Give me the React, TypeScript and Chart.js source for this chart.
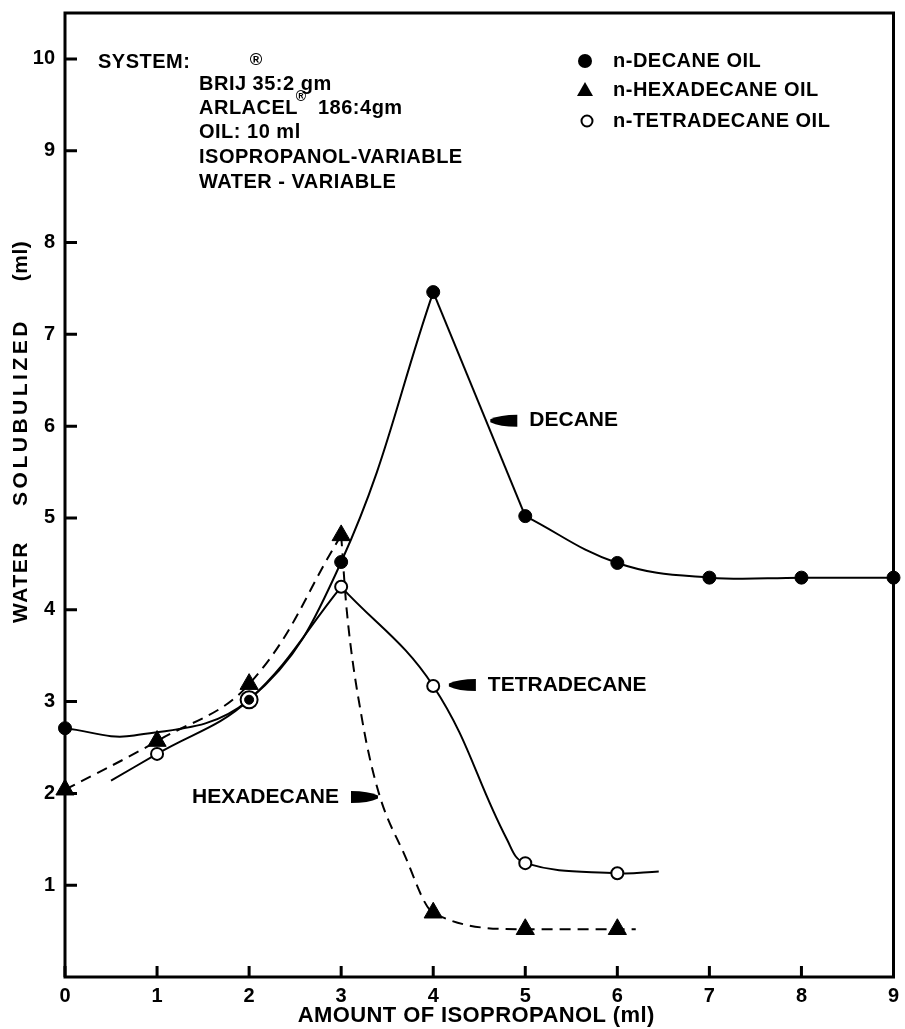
import React, { useEffect, useRef } from "react";
import { Chart, registerables } from "chart.js";

Chart.register(...registerables);

const FONT = '"Liberation Sans", Arial, sans-serif';

// Axis ticks
const xTickValues = [0, 1, 2, 3, 4, 5, 6, 7, 8, 9];
const yTickValues = [1, 2, 3, 4, 5, 6, 7, 8, 9, 10];

// Measured points (amount of isopropanol, ml -> water solubilized, ml)
const decaneX = [0, 2, 3, 4, 5, 6, 7, 8, 9];
const decaneY = [2.71, 3.02, 4.52, 7.46, 5.02, 4.51, 4.35, 4.35, 4.35];
const hexadecaneX = [0, 1, 2, 3, 4, 5, 6];
const hexadecaneY = [2.04, 2.57, 3.19, 4.81, 0.7, 0.52, 0.52];
const tetradecaneX = [1, 2, 3, 4, 5, 6];
const tetradecaneY = [2.43, 3.02, 4.25, 3.17, 1.24, 1.13];

// Hand-drawn fitted curves: extra points read along each curve, and the x values where each curve turns sharply
const decaneCurveExtraX = [0.75];
const decaneCurveExtraY = [2.63];
const decaneCusps = [4, 5];
const hexadecaneCurveExtraX = [3.06, 3.23, 3.41, 3.68, 6.2];
const hexadecaneCurveExtraY = [4.0, 2.79, 2.0, 1.35, 0.52];
const hexadecaneCusps = [3];
const tetradecaneCurveExtraX = [0.5, 4.8, 6.45];
const tetradecaneCurveExtraY = [2.14, 1.5, 1.15];
const tetradecaneCusps = [3];

// Legend
const legendLabels = ["n-DECANE OIL", "n-HEXADECANE OIL", "n-TETRADECANE OIL"];

// Curve labels with pointer tips (data coords)
const curveLabels = ["DECANE", "TETRADECANE", "HEXADECANE"];
const curveLabelTipX = [4.62, 4.17, 3.4];
const curveLabelTipY = [6.06, 3.18, 1.96];
const curveLabelSide = ["right", "right", "left"];

// System description
const systemTitle = "SYSTEM:";
const systemLines = ["BRIJ 35:2 gm", "ARLACEL", "OIL: 10 ml", "ISOPROPANOL-VARIABLE", "WATER - VARIABLE"];
const arlacelRest = "186:4gm";

const xTitle = "AMOUNT OF ISOPROPANOL (ml)";
const yTitleWords = ["WATER", "SOLUBULIZED", "(ml)"];

type P = { x: number; y: number };
const toPoints = (xs: number[], ys: number[]): P[] => xs.map((x, i) => ({ x, y: ys[i] }));

function splitCurve(xs: number[], ys: number[], ex: number[], ey: number[], cusps: number[]): P[][] {
  const pts = [...toPoints(xs, ys), ...toPoints(ex, ey)].sort((a, b) => a.x - b.x);
  const bounds = [-Infinity, ...cusps, Infinity];
  const pieces: P[][] = [];
  for (let i = 0; i < bounds.length - 1; i++) {
    pieces.push(pts.filter((p) => p.x >= bounds[i] && p.x <= bounds[i + 1]));
  }
  return pieces;
}

const decanePts = toPoints(decaneX, decaneY);
const tetraPts = toPoints(tetradecaneX, tetradecaneY);
const coincide = (p: P, list: P[]) => list.some((q) => q.x === p.x && Math.abs(q.y - p.y) < 0.1);

function drawPointer(ctx: CanvasRenderingContext2D, tx: number, ty: number, dir: number) {
  const len = 27;
  const h = 12;
  const bx = tx + dir * len;
  ctx.beginPath();
  ctx.moveTo(tx, ty - 1.5);
  ctx.quadraticCurveTo(tx + dir * len * 0.35, ty - h / 2, bx, ty - h / 2);
  ctx.lineTo(bx, ty + h / 2);
  ctx.quadraticCurveTo(tx + dir * len * 0.35, ty + h / 2, tx, ty + 1.5);
  ctx.closePath();
  ctx.fill();
}

const overlay = {
  id: "overlay",
  beforeDatasetsDraw(chart: any) {
    const { ctx, chartArea: a, scales } = chart;
    const x = scales.x;
    const y = scales.y;
    ctx.save();
    ctx.strokeStyle = "#000";
    ctx.lineWidth = 3;
    ctx.strokeRect(a.left, a.top, a.right - a.left, a.bottom - a.top);
    ctx.beginPath();
    yTickValues.forEach((v) => {
      const py = y.getPixelForValue(v);
      ctx.moveTo(a.left, py);
      ctx.lineTo(a.left + 12, py);
    });
    xTickValues.forEach((v) => {
      const px = x.getPixelForValue(v);
      ctx.moveTo(px, a.bottom);
      ctx.lineTo(px, a.bottom - 11);
    });
    ctx.stroke();
    ctx.restore();
  },
  afterDraw(chart: any) {
    const { ctx, chartArea: a, scales } = chart;
    const x = scales.x;
    const y = scales.y;
    ctx.save();
    ctx.fillStyle = "#000";
    ctx.strokeStyle = "#000";
    ctx.textBaseline = "middle";
    ctx.textAlign = "left";

    // system block
    ctx.font = `bold 20px ${FONT}`;
    (ctx as any).letterSpacing = "0.5px";
    ctx.fillText(systemTitle, 98, 62);
    const lineYs = [84, 108, 132, 157, 182];
    systemLines.forEach((t, i) => ctx.fillText(t, 199, lineYs[i]));
    ctx.fillText(arlacelRest, 318, 108);
    (ctx as any).letterSpacing = "0px";
    ctx.textAlign = "center";
    ctx.font = `bold 17px ${FONT}`;
    ctx.fillText("®", 256, 60);
    ctx.font = `bold 14px ${FONT}`;
    ctx.fillText("®", 301, 97);

    // legend
    ctx.textAlign = "left";
    ctx.font = `bold 20px ${FONT}`;
    (ctx as any).letterSpacing = "0.5px";
    const legYs = [61, 90, 121];
    legendLabels.forEach((t, i) => ctx.fillText(t, 613, legYs[i]));
    (ctx as any).letterSpacing = "0px";
    ctx.beginPath();
    ctx.arc(585, legYs[0], 7, 0, Math.PI * 2);
    ctx.fill();
    ctx.beginPath();
    ctx.moveTo(585, legYs[1] - 8);
    ctx.lineTo(593, legYs[1] + 6);
    ctx.lineTo(577, legYs[1] + 6);
    ctx.closePath();
    ctx.fill();
    ctx.lineWidth = 2;
    ctx.beginPath();
    ctx.arc(587, legYs[2], 5.5, 0, Math.PI * 2);
    ctx.fillStyle = "#fff";
    ctx.fill();
    ctx.stroke();
    ctx.fillStyle = "#000";

    // curve labels
    ctx.font = `bold 21px ${FONT}`;
    curveLabels.forEach((t, i) => {
      const tx = x.getPixelForValue(curveLabelTipX[i]);
      const ty = y.getPixelForValue(curveLabelTipY[i]);
      const dir = curveLabelSide[i] === "right" ? 1 : -1;
      drawPointer(ctx, tx, ty, dir);
      ctx.textAlign = dir > 0 ? "left" : "right";
      ctx.fillText(t, tx + dir * 39, ty);
    });

    // axis titles
    ctx.textAlign = "center";
    ctx.font = `bold 22px ${FONT}`;
    (ctx as any).letterSpacing = "0.4px";
    ctx.fillText(xTitle, (a.left + a.right) / 2 - 3, 1016);
    ctx.font = `bold 21px ${FONT}`;
    const wordCenters = [582, 412, 261];
    const wordSpacing = ["1.5px", "3.5px", "0.5px"];
    yTitleWords.forEach((w, i) => {
      ctx.save();
      (ctx as any).letterSpacing = wordSpacing[i];
      ctx.translate(21, wordCenters[i]);
      ctx.rotate(-Math.PI / 2);
      ctx.fillText(w, 0, 0);
      ctx.restore();
    });
    (ctx as any).letterSpacing = "0px";
    ctx.restore();
  },
};

const zeroPadding = (s: any) => {
  s.paddingTop = 0;
  s.paddingBottom = 0;
  s.paddingLeft = 0;
  s.paddingRight = 0;
};

export default function App() {
  const ref = useRef<HTMLCanvasElement>(null);

  useEffect(() => {
    document.body.style.margin = "0";
    document.body.style.overflow = "hidden";
    const canvas = ref.current!;
    const decPieces = splitCurve(decaneX, decaneY, decaneCurveExtraX, decaneCurveExtraY, decaneCusps);
    const hexPieces = splitCurve(hexadecaneX, hexadecaneY, hexadecaneCurveExtraX, hexadecaneCurveExtraY, hexadecaneCusps);
    const tetPieces = splitCurve(tetradecaneX, tetradecaneY, tetradecaneCurveExtraX, tetradecaneCurveExtraY, tetradecaneCusps);

    const curve = (data: P[], dashed: boolean, mono = false): any => ({
      data,
      borderColor: "#000",
      borderWidth: 2,
      borderDash: dashed ? [11, 7] : [],
      pointRadius: 0,
      tension: 0.4,
      cubicInterpolationMode: mono ? "monotone" : "default",
      fill: false,
    });

    const chart = new Chart(canvas, {
      type: "line",
      data: {
        datasets: [
          {
            label: "n-DECANE OIL",
            data: decanePts,
            showLine: false,
            pointStyle: "circle",
            pointRadius: (c: any) => (coincide(c.raw, tetraPts) ? 4.5 : 6.5),
            pointBackgroundColor: "#000",
            pointBorderColor: "#000",
            pointBorderWidth: 1,
            clip: false,
          } as any,
          {
            label: "n-HEXADECANE OIL",
            data: toPoints(hexadecaneX, hexadecaneY),
            showLine: false,
            pointStyle: "triangle",
            pointRadius: 10.5,
            pointBackgroundColor: "#000",
            pointBorderColor: "#000",
            pointBorderWidth: 1,
            clip: false,
          } as any,
          {
            label: "n-TETRADECANE OIL",
            data: tetraPts,
            showLine: false,
            pointStyle: "circle",
            pointRadius: (c: any) => (coincide(c.raw, decanePts) ? 8.5 : 6),
            pointBackgroundColor: "#fff",
            pointBorderColor: "#000",
            pointBorderWidth: 2,
            clip: false,
          } as any,
          ...decPieces.map((p) => curve(p, false)),
          curve(hexPieces[0], true),
          curve(hexPieces[1], true, true),
          ...tetPieces.map((p) => curve(p, false)),
        ],
      },
      options: {
        responsive: false,
        animation: false,
        devicePixelRatio: 1,
        events: [],
        layout: { padding: { top: 13, right: 8, left: 0, bottom: 0 } },
        plugins: { legend: { display: false }, tooltip: { enabled: false } },
        scales: {
          x: {
            type: "linear",
            min: 0,
            max: 9,
            grid: { display: false, drawTicks: false },
            border: { display: false },
            afterBuildTicks: (s: any) => {
              s.ticks = xTickValues.map((v) => ({ value: v }));
            },
            afterFit: (s: any) => {
              s.height = 52;
              zeroPadding(s);
            },
            ticks: {
              color: "#000",
              font: { family: FONT, size: 20, weight: "bold" },
              padding: 7,
              maxRotation: 0,
              autoSkip: false,
              callback: (v: any) => String(v),
            },
          },
          y: {
            type: "linear",
            min: 0,
            max: 10.5,
            grid: { display: false, drawTicks: false },
            border: { display: false },
            afterBuildTicks: (s: any) => {
              s.ticks = yTickValues.map((v) => ({ value: v }));
            },
            afterFit: (s: any) => {
              s.width = 65;
              zeroPadding(s);
            },
            ticks: {
              color: "#000",
              font: { family: FONT, size: 20, weight: "bold" },
              padding: 10,
              autoSkip: false,
              callback: (v: any) => String(v),
            },
          },
        },
      } as any,
      plugins: [overlay],
    });
    return () => chart.destroy();
  }, []);

  return <canvas ref={ref} width={905} height={1029} style={{ display: "block", width: 905, height: 1029 }} />;
}
